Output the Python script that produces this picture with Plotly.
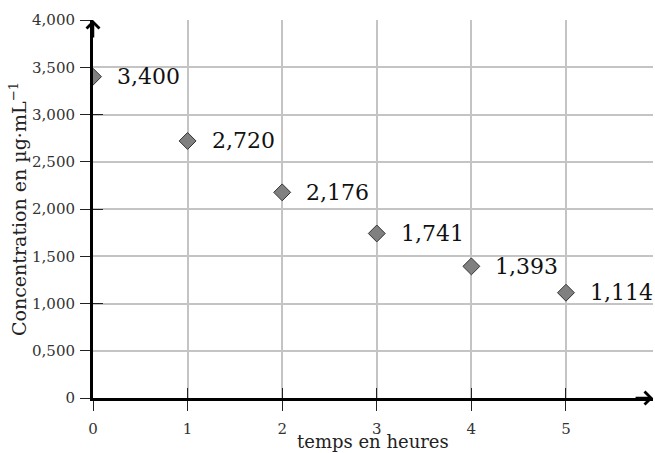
import plotly.graph_objects as go

hours = [0, 1, 2, 3, 4, 5]
conc = [3.400, 2.720, 2.176, 1.741, 1.393, 1.114]
y_tickvals = [0, 0.5, 1.0, 1.5, 2.0, 2.5, 3.0, 3.5, 4.0]
y_ticktext = ["0", "0,500", "1,000", "1,500", "2,000", "2,500", "3,000", "3,500", "4,000"]
x_tickvals = [0, 1, 2, 3, 4, 5]
x_ticktext = ["0", "1", "2", "3", "4", "5"]
y_cross_ticks = [1.0, 2.0, 3.0]
x_cross_ticks = [1, 2, 3, 4, 5]

FONT = "DejaVu Serif"
XMAX = 5.92
YMAX = 4.0
L, R, T, B = 93, 2, 20, 55
W, H = 655, 453
PW, PH = W - L - R, H - T - B

def fr(v):
    return f"{v:.3f}".replace(".", ",")

fig = go.Figure()
fig.add_trace(go.Scatter(
    x=hours, y=conc, mode="markers",
    marker=dict(symbol="diamond", size=13, color="#808080",
                line=dict(color="#333333", width=1)),
    hoverinfo="skip", showlegend=False))
fig.add_trace(go.Scatter(x=[0], y=[0], xaxis="x2", yaxis="y2", mode="markers",
                         marker=dict(opacity=0), showlegend=False, hoverinfo="skip"))

annotations = []
for h, c in zip(hours, conc):
    annotations.append(dict(x=h, y=c, text=fr(c), showarrow=False, xanchor="left",
                            yanchor="middle", xshift=22, yshift=0,
                            font=dict(family=FONT, size=22, color="#111111")))
# axis arrowheads
annotations.append(dict(x=XMAX, y=0, ax=XMAX - 0.2, ay=0, xref="x", yref="y", axref="x", ayref="y",
                        showarrow=True, arrowhead=4, arrowsize=1, arrowwidth=2.5, arrowcolor="black",
                        text=""))
annotations.append(dict(x=0, y=YMAX, ax=0, ay=YMAX - 0.2, xref="x", yref="y", axref="x", ayref="y",
                        showarrow=True, arrowhead=4, arrowsize=1, arrowwidth=2.5, arrowcolor="black",
                        text=""))
annotations.append(dict(x=0.5, y=-(442 - (H - B)) / PH, xref="x domain", yref="y domain",
                        xanchor="center", yanchor="middle", text="temps en heures",
                        showarrow=False, font=dict(family=FONT, size=18, color="#222222")))
annotations.append(dict(x=-(L - 18) / PW, y=(H - B - 209) / PH, xref="x domain", yref="y domain",
                        xanchor="center", yanchor="middle",
                        text="Concentration en µg·mL<sup>−1</sup>", textangle=-90,
                        showarrow=False, font=dict(family=FONT, size=19, color="#222222")))

fig.update_layout(
    width=W, height=H,
    margin=dict(l=L, r=R, t=T, b=B, autoexpand=False),
    plot_bgcolor="white", paper_bgcolor="white",
    font=dict(family=FONT, size=15, color="#333333"),
    annotations=annotations,
    xaxis=dict(range=[0, XMAX], tickvals=x_tickvals, ticktext=x_ticktext,
               showgrid=True, gridcolor="#c4c4c4", gridwidth=1.5,
               showline=True, linecolor="black", linewidth=3,
               ticks="outside", ticklen=10, tickwidth=1.2, tickcolor="#222222",
               ticklabelstandoff=5, zeroline=False, fixedrange=True, automargin=False),
    yaxis=dict(range=[0, YMAX], tickvals=y_tickvals, ticktext=y_ticktext,
               showgrid=True, gridcolor="#c4c4c4", gridwidth=1.5,
               showline=True, linecolor="black", linewidth=3,
               ticks="outside", ticklen=10, tickwidth=1.2, tickcolor="#222222",
               ticklabelstandoff=2, zeroline=False, fixedrange=True, automargin=False),
    xaxis2=dict(range=[0, XMAX], overlaying="x", tickvals=x_cross_ticks, showticklabels=False,
                ticks="inside", ticklen=10, tickwidth=1.2, tickcolor="#222222",
                showgrid=False, zeroline=False, showline=False, anchor="y2", automargin=False),
    yaxis2=dict(range=[0, YMAX], overlaying="y", tickvals=y_cross_ticks, showticklabels=False,
                ticks="inside", ticklen=10, tickwidth=1.2, tickcolor="#222222",
                showgrid=False, zeroline=False, showline=False, anchor="x2", automargin=False),
)
fig.write_html("out.html", config={"displayModeBar": False},
               post_script="document.body.style.margin='0';document.body.style.overflow='hidden';")
